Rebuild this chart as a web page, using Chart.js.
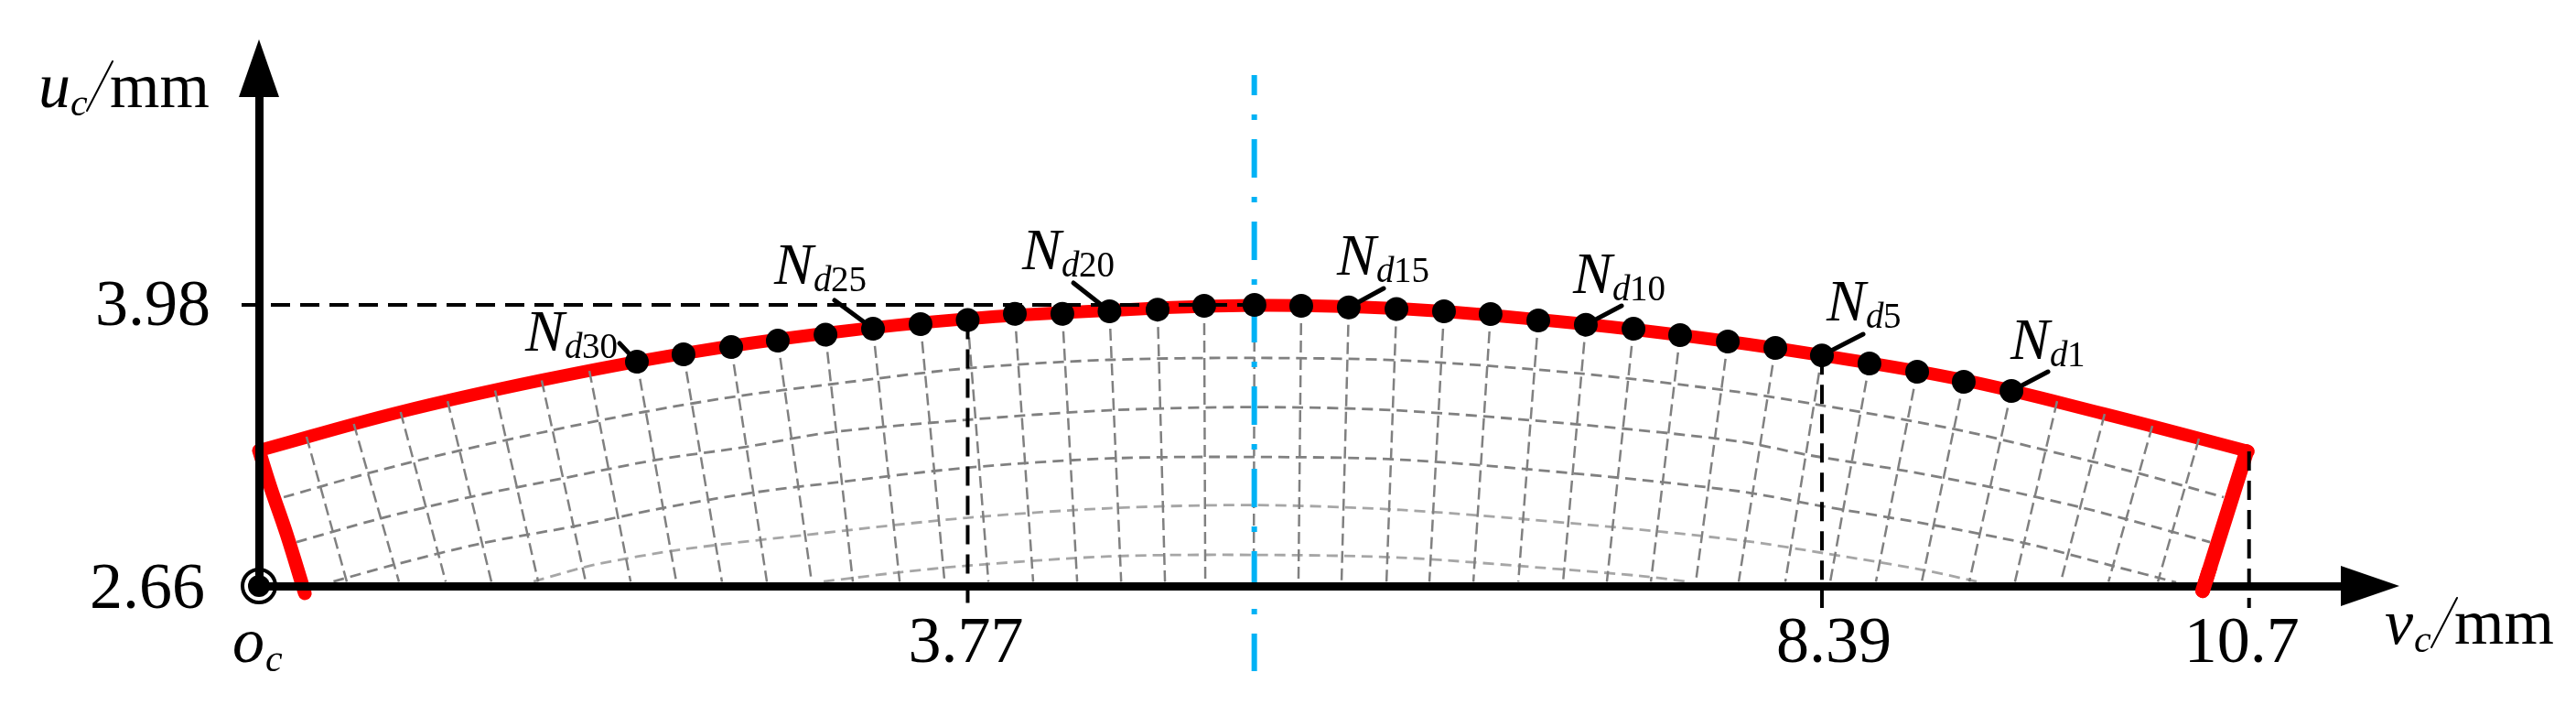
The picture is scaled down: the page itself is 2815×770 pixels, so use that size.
<!DOCTYPE html>
<html>
<head>
<meta charset="utf-8">
<title>Nd node positions</title>
<script src="https://cdn.jsdelivr.net/npm/chart.js@4/dist/chart.umd.min.js"></script>
<style>
  html, body { margin: 0; padding: 0; background: #fff; }
  canvas { display: block; }
</style>
</head>
<body>
<canvas id="chart" width="2815" height="770"></canvas>
<script>
// all values in mm
const xTicks = [3.77, 8.39, 10.7];
const yTicks = [2.66, 3.98];

// nodes Nd30 ... Nd1, left to right
const nodeV = [1.981, 2.233, 2.491, 2.743, 3.001, 3.258, 3.515, 3.77, 4.025, 4.282,
  4.537, 4.797, 5.049, 5.321, 5.574, 5.831, 6.089, 6.346, 6.598, 6.856,
  7.113, 7.371, 7.623, 7.881, 8.138, 8.39, 8.647, 8.905, 9.157, 9.415];
const nodeU = [3.713, 3.748, 3.782, 3.812, 3.84, 3.868, 3.89, 3.909, 3.938, 3.938,
  3.95, 3.958, 3.976, 3.98, 3.976, 3.968, 3.961, 3.95, 3.937, 3.907,
  3.887, 3.868, 3.838, 3.808, 3.778, 3.743, 3.705, 3.666, 3.619, 3.576];

// red outer profile
const profileV = [-0.063, 0.699, 1.466, 2.233, 3.001, 3.772, 4.535, 5.317, 6.089, 6.856, 7.623, 8.39, 9.157, 9.919, 10.696];
const profileU = [3.296, 3.477, 3.627, 3.752, 3.847, 3.915, 3.954, 3.978, 3.963, 3.911, 3.838, 3.743, 3.627, 3.468, 3.292];

const sideLeftV = [-0.063, 0.001, 0.086, 0.185];
const sideLeftU = [3.296, 3.12, 2.905, 2.626];
const sideRightV = [10.687, 10.449];
const sideRightU = [3.292, 2.638];

// mesh lines outside the node range start here on the profile
const radialLeftV = [0.194, 0.45, 0.703, 0.957, 1.214, 1.466, 1.724];
const radialLeftU = [3.361, 3.421, 3.477, 3.528, 3.578, 3.625, 3.67];
const radialRightV = [9.662, 9.919, 10.177, 10.429];
const radialRightU = [3.528, 3.468, 3.412, 3.352];

// and here each mesh line reaches the v axis
const radialFootV = [0.412, 0.694, 0.947, 1.194, 1.447, 1.704, 1.947,
  2.194, 2.441, 2.684, 2.926, 3.149, 3.402, 3.645, 3.882, 4.124, 4.362,
  4.6, 4.837, 5.055, 5.317, 5.559, 5.792, 6.035, 6.267, 6.505, 6.748,
  6.99, 7.227, 7.465, 7.708, 7.94, 8.192, 8.435, 8.682, 8.93, 9.187,
  9.434, 9.682, 9.94, 10.207];
const radialFootU = 2.68;

// mesh arcs, outermost first
const arc1V = [0.071, 0.526, 1.021, 1.521, 2.016, 2.516, 3.016, 3.777, 4.535, 5.317, 6.148, 7.094, 7.94, 8.37, 9.093, 9.608, 10.103, 10.563];
const arc1U = [3.077, 3.189, 3.296, 3.391, 3.477, 3.55, 3.606, 3.683, 3.722, 3.731, 3.718, 3.657, 3.571, 3.511, 3.399, 3.296, 3.189, 3.077];
const arc2V = [0.14, 0.581, 1.095, 1.59, 2.09, 2.57, 3.016, 3.763, 4.535, 5.317, 6.084, 7.094, 7.94, 8.316, 8.806, 9.326, 9.786, 10.034, 10.489];
const arc2U = [2.866, 2.974, 3.081, 3.167, 3.253, 3.313, 3.38, 3.44, 3.485, 3.5, 3.485, 3.417, 3.339, 3.275, 3.206, 3.12, 3.03, 2.974, 2.866];
const arc3V = [0.34, 0.665, 1.15, 1.635, 2.115, 2.615, 3.016, 3.763, 4.535, 5.317, 6.114, 7.094, 7.94, 8.37, 8.979, 9.484, 9.959, 10.306];
const arc3U = [2.681, 2.759, 2.862, 2.939, 3.025, 3.099, 3.142, 3.215, 3.259, 3.266, 3.253, 3.185, 3.105, 3.038, 2.948, 2.862, 2.755, 2.677];
const arc4V = [1.422, 1.749, 2.229, 2.991, 3.763, 4.535, 5.317, 6.114, 7.094, 7.94, 8.43, 8.95, 9.227];
const arc4U = [2.681, 2.759, 2.832, 2.909, 2.98, 3.025, 3.04, 3.017, 2.95, 2.875, 2.81, 2.733, 2.681];
const arc5V = [2.991, 3.402, 3.763, 4.535, 5.317, 6.114, 7.0, 7.41, 7.677];
const arc5U = [2.681, 2.724, 2.755, 2.799, 2.806, 2.793, 2.737, 2.707, 2.679];

// reference lines
const centerV = 5.32;
const centerSpanU = [5.059, 2.26];
const guideSpanV = [-0.157, 5.268];
const guideLowU = 2.557;

const pairs = (vs, us) => vs.map((v, i) => ({ x: v, y: us[i] }));

// one dataset for all radial lines, broken up by null points
const radialTopV = [...radialLeftV, ...nodeV, ...radialRightV];
const radialTopU = [...radialLeftU, ...nodeU, ...radialRightU];
const radialData = [];
radialFootV.forEach((foot, i) => {
  radialData.push({ x: radialTopV[i], y: radialTopU[i] }, { x: foot, y: radialFootU }, { x: foot, y: null });
});

const DARK_MESH = '#808080';
const LIGHT_MESH = '#a6a6a6';
const SERIF = '"Liberation Serif", "Times New Roman", serif';

function lineSet(data, color, width, dash, order, extra) {
  return Object.assign({
    data: data,
    showLine: true,
    borderColor: color,
    borderWidth: width,
    borderDash: dash,
    pointRadius: 0,
    tension: 0,
    clip: false,
    order: order
  }, extra);
}

const roundEnds = { borderCapStyle: 'round', borderJoinStyle: 'round', tension: 0.4 };

const datasets = [
  lineSet(pairs(profileV, profileU), '#ff0000', 14, [], 5, roundEnds),
  lineSet(pairs(sideLeftV, sideLeftU), '#ff0000', 15, [], 5, roundEnds),
  lineSet(pairs(sideRightV, sideRightU), '#ff0000', 16, [], 5, roundEnds),

  lineSet(radialData, DARK_MESH, 2.5, [13, 6], 4),
  lineSet(pairs(arc1V, arc1U), DARK_MESH, 2.8, [12, 7], 4, { tension: 0.3 }),
  lineSet(pairs(arc2V, arc2U), DARK_MESH, 2.8, [12, 7], 4, { tension: 0.3 }),
  lineSet(pairs(arc3V, arc3U), DARK_MESH, 2.8, [12, 7], 4, { tension: 0.3 }),
  lineSet(pairs(arc4V, arc4U), LIGHT_MESH, 2.8, [12, 7], 4, { tension: 0.3 }),
  lineSet(pairs(arc5V, arc5U), LIGHT_MESH, 2.8, [12, 7], 4, { tension: 0.3 }),

  lineSet(pairs([centerV, centerV], centerSpanU), '#00b2f5', 6, [42, 21, 6, 21], 3, { borderDashOffset: 20 }),

  lineSet(pairs(guideSpanV, [yTicks[1], yTicks[1]]), '#000', 4, [21, 11], 2),
  lineSet(pairs([xTicks[0], xTicks[0]], [nodeU[7], guideLowU]), '#000', 4, [21, 11], 2),
  lineSet(pairs([xTicks[1], xTicks[1]], [nodeU[25], guideLowU]), '#000', 4, [21, 11], 2),
  lineSet(pairs([xTicks[2], xTicks[2]], [sideRightU[0], guideLowU]), '#000', 4, [21, 11], 2),

  {
    data: pairs(nodeV, nodeU),
    pointRadius: 13,
    pointBackgroundColor: '#000',
    pointBorderWidth: 0,
    showLine: false,
    clip: false,
    order: 1
  },
  // origin symbol: ring and dot
  {
    data: [{ x: -0.063, y: 2.66 }],
    pointRadius: 18,
    pointBackgroundColor: 'rgba(0,0,0,0)',
    pointBorderColor: '#000',
    pointBorderWidth: 4,
    showLine: false,
    clip: false,
    order: 1
  },
  {
    data: [{ x: -0.063, y: 2.66 }],
    pointRadius: 12,
    pointBackgroundColor: '#000',
    pointBorderWidth: 0,
    showLine: false,
    clip: false,
    order: 1
  }
];

// label text: node number, then where it goes on the canvas
const nodeLabels = [
  { node: 30, x: 574, y: 383, fromX: 677, fromY: 375 },
  { node: 25, x: 846, y: 310, fromX: 912, fromY: 328 },
  { node: 20, x: 1117, y: 294, fromX: 1173, fromY: 309 },
  { node: 15, x: 1461, y: 300, fromX: 1512, fromY: 315 },
  { node: 10, x: 1719, y: 320, fromX: 1772, fromY: 334 },
  { node: 5, x: 1996, y: 350, fromX: 2036, fromY: 365 },
  { node: 1, x: 2197, y: 392, fromX: 2238, fromY: 406 }
];

// tick labels sit a little off their ticks in the picture
const xLabelShift = [-2, 13, -8];
const yLabelRight = [224, 230];
const yLabelDrop = [24, 22];

function drawText(ctx, text, x, y, size, italic) {
  ctx.font = (italic ? 'italic ' : '') + size + 'px ' + SERIF;
  ctx.fillText(text, x, y);
}

function drawAxisTitle(ctx, letter, x, y, cX, slashX, mmX) {
  drawText(ctx, letter, x, y, 70, true);
  drawText(ctx, 'c', cX, y + 9, 42, true);
  ctx.lineWidth = 2;
  ctx.beginPath();
  ctx.moveTo(slashX, y + 4);
  ctx.lineTo(slashX + 28, y - 50);
  ctx.stroke();
  drawText(ctx, 'mm', mmX, y, 70, false);
}

const annotations = {
  id: 'annotations',
  afterDraw(chart) {
    const ctx = chart.ctx;
    const area = chart.chartArea;
    const xScale = chart.scales.x;
    const yScale = chart.scales.y;

    // right side of the profile sits on top of the v axis
    ctx.save();
    ctx.beginPath();
    ctx.rect(area.left, area.bottom - 20, area.width, 60);
    ctx.clip();
    chart.getDatasetMeta(2).dataset.draw(ctx, area);
    ctx.restore();

    ctx.save();
    ctx.fillStyle = '#000';
    ctx.strokeStyle = '#000';
    ctx.textBaseline = 'alphabetic';

    // arrow heads
    ctx.beginPath();
    ctx.moveTo(area.left, area.top - 57);
    ctx.lineTo(area.left - 22, area.top + 6);
    ctx.lineTo(area.left + 22, area.top + 6);
    ctx.closePath();
    ctx.fill();
    ctx.beginPath();
    ctx.moveTo(area.right + 57, area.bottom);
    ctx.lineTo(area.right - 7, area.bottom - 22);
    ctx.lineTo(area.right - 7, area.bottom + 22);
    ctx.closePath();
    ctx.fill();

    // tick labels
    ctx.textAlign = 'center';
    xTicks.forEach((v, i) => {
      drawText(ctx, String(v), xScale.getPixelForValue(v) + xLabelShift[i], area.bottom + 83, 72, false);
    });
    ctx.textAlign = 'right';
    yTicks.forEach((u, i) => {
      drawText(ctx, String(u), yLabelRight[i], yScale.getPixelForValue(u) + yLabelDrop[i], 72, false);
    });
    ctx.textAlign = 'left';

    nodeLabels.forEach(label => {
      const i = 30 - label.node;
      ctx.lineWidth = 5;
      ctx.lineCap = 'round';
      ctx.beginPath();
      ctx.moveTo(label.fromX, label.fromY);
      ctx.lineTo(xScale.getPixelForValue(nodeV[i]), yScale.getPixelForValue(nodeU[i]));
      ctx.stroke();
      drawText(ctx, 'N', label.x, label.y, 64, true);
      drawText(ctx, 'd', label.x + 43, label.y + 8, 39, true);
      drawText(ctx, String(label.node), label.x + 62, label.y + 8, 39, false);
    });

    drawAxisTitle(ctx, 'u', 42, 117, 77, 95, 120);
    drawAxisTitle(ctx, 'v', 2606, 703, 2638, 2657, 2682);
    drawText(ctx, 'o', 254, 723, 70, true);
    drawText(ctx, 'c', 290, 733, 42, true);
    ctx.restore();
  }
};

new Chart(document.getElementById('chart'), {
  type: 'scatter',
  data: { datasets: datasets },
  plugins: [annotations],
  options: {
    responsive: false,
    devicePixelRatio: 1,
    animation: false,
    events: [],
    layout: { padding: { top: 100, right: 250, left: 0, bottom: 0 } },
    plugins: { legend: { display: false }, tooltip: { enabled: false } },
    scales: {
      x: {
        type: 'linear',
        min: -0.063,
        max: 11.231,
        afterFit: scale => { scale.height = 130; },
        grid: { display: false, drawTicks: false },
        border: { color: '#000', width: 9, z: 1 },
        ticks: { display: false }
      },
      y: {
        type: 'linear',
        min: 2.66,
        max: 4.982,
        afterFit: scale => { scale.width = 283; },
        grid: { display: false, drawTicks: false },
        border: { color: '#000', width: 9, z: 1 },
        ticks: { display: false }
      }
    }
  }
});
</script>
</body>
</html>
